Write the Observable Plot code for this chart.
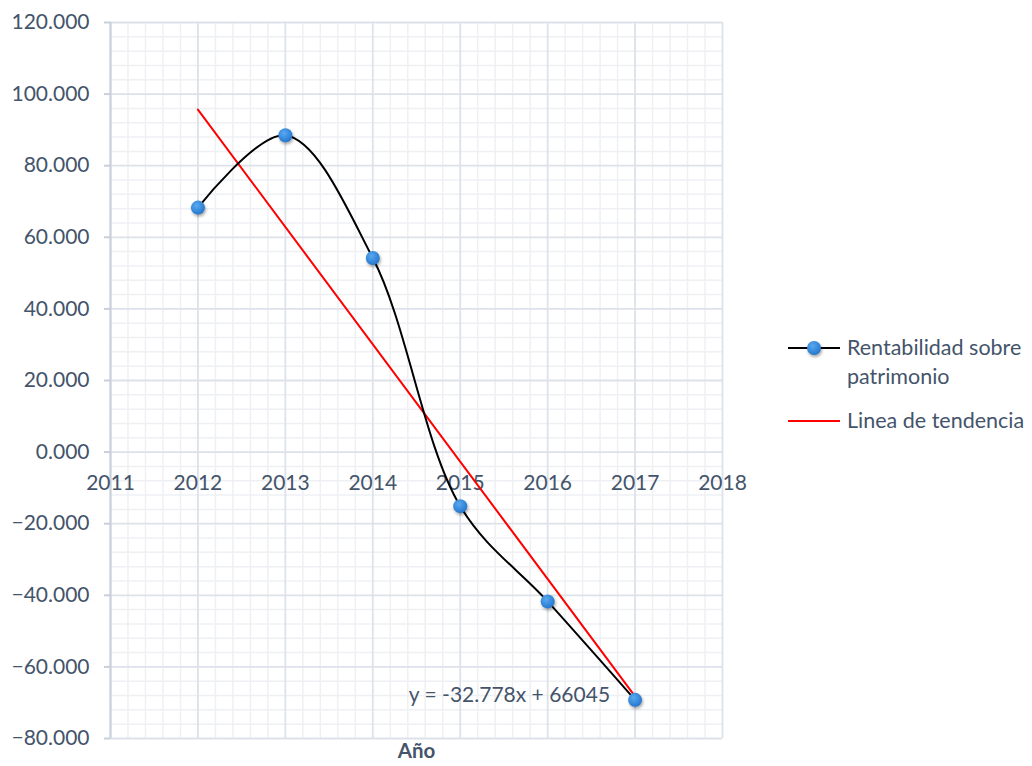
<!DOCTYPE html>
<html>
<head>
<meta charset="utf-8">
<script src="https://cdn.jsdelivr.net/npm/d3@7"></script>
<script src="https://cdn.jsdelivr.net/npm/@observablehq/plot@0.6"></script>
<style>
  html, body { margin: 0; padding: 0; background: #fff; }
  #wrap { position: relative; width: 1032px; height: 766px; font-family: Lato, "Open Sans", sans-serif; color: #44546a; }
  #wrap svg g[aria-label="dot"] circle { filter: drop-shadow(1px 2px 1.5px rgba(0,0,0,0.35)); }
  .legend { position: absolute; left: 788px; font-size: 21.5px; line-height: 29px; }
  .legend .item { position: absolute; left: 0; white-space: nowrap; }
  .legend svg { position: absolute; left: 0; top: 0; overflow: visible; }
  .legend .label { position: absolute; left: 59px; top: 0; }
</style>
</head>
<body>
<svg width="0" height="0" style="position:absolute">
  <defs>
    <radialGradient id="dotFill" cx="40%" cy="35%" r="70%">
      <stop offset="0%" stop-color="#5aa8f0"/>
      <stop offset="100%" stop-color="#1f74cc"/>
    </radialGradient>
  </defs>
</svg>
<div id="wrap"></div>
<script>
// Rentabilidad sobre patrimonio por año
const years = [2012, 2013, 2014, 2015, 2016, 2017];
const roe = [68.3, 88.5, 54.2, -15.1, -41.7, -69.2];

// Trend line coefficients (y = slope·x + intercept)
const slope = -32.778;
const intercept = 66045;
const equationLabel = "y = -32.778x + 66045";

// Axis ticks
const xTicks = [2011, 2012, 2013, 2014, 2015, 2016, 2017, 2018];
const yTicks = [-80, -60, -40, -20, 0, 20, 40, 60, 80, 100, 120];
const xTitle = "Año";
const seriesName = ["Rentabilidad sobre", "patrimonio"];
const trendName = "Linea de tendencia";

const data = years.map((year, i) => ({year, value: roe[i]}));
const trendYears = [years[0], years[years.length - 1]];

const minorX = d3.range(2011, 2018.0001, 0.2).filter(v => Math.abs(v - Math.round(v)) > 1e-6);
const minorY = d3.range(-80, 120.0001, 4).filter(v => v % 20 !== 0);

const textColor = "#44546a";
const tickFont = 21;

const chart = Plot.plot({
  width: 1032,
  height: 766,
  marginLeft: 110,
  marginRight: 310,
  marginTop: 22,
  marginBottom: 28,
  style: {fontFamily: "Lato, 'Open Sans', sans-serif", color: textColor, background: "transparent"},
  x: {domain: [2011, 2018], axis: null},
  y: {domain: [-80, 120], axis: null},
  marks: [
    // minor grid
    Plot.ruleX(minorX, {stroke: "#eef0f4", strokeWidth: 1.5}),
    Plot.ruleY(minorY, {stroke: "#eef0f4", strokeWidth: 1.5}),
    // major grid
    Plot.ruleX(xTicks, {stroke: "#dde2ea", strokeWidth: 1.8}),
    Plot.ruleY(yTicks, {stroke: "#dde2ea", strokeWidth: 1.8}),
    // vertical axis line and ticks
    Plot.ruleX([2011], {stroke: "#c9d0db", strokeWidth: 2}),
    Plot.axisY(yTicks, {
      tickSize: 6,
      tickPadding: 15,
      tickFormat: d3.format(".3f"),
      fontSize: tickFont,
      stroke: "#c9d0db",
      strokeWidth: 2,
      fill: textColor,
      label: null
    }),
    // year labels under the zero line
    Plot.text(xTicks, {
      x: d => d,
      y: 0,
      dy: 31,
      text: d => String(d),
      fontSize: tickFont,
      fill: textColor
    }),
    // axis title
    Plot.text([xTitle], {
      frameAnchor: "bottom",
      dy: 19,
      text: d => d,
      fontSize: 20.5,
      fontWeight: "bold",
      fill: textColor
    }),
    // linear trend
    Plot.line(trendYears, {
      x: d => d,
      y: d => slope * d + intercept,
      stroke: "#ff0000",
      strokeWidth: 2
    }),
    // series line
    Plot.line(data, {
      x: "year",
      y: "value",
      curve: "catmull-rom",
      stroke: "#000",
      strokeWidth: 2
    }),
    Plot.dot(data, {
      x: "year",
      y: "value",
      r: 7,
      fill: "url(#dotFill)",
      stroke: "none"
    }),
    // trend equation
    Plot.text([equationLabel], {
      x: trendYears[1],
      y: trendYears[1] * slope + intercept,
      dx: -25,
      dy: -1,
      textAnchor: "end",
      text: d => d,
      fontSize: tickFont,
      fill: textColor
    })
  ]
});

const wrap = document.getElementById("wrap");
wrap.appendChild(chart);

// legend to the right of the plot
const legend = document.createElement("div");
legend.className = "legend";
legend.style.top = "333px";
legend.innerHTML = `
  <div class="item" style="top:0">
    <svg width="54" height="29"><line x1="0" y1="15" x2="52" y2="15" stroke="#000" stroke-width="2"/>
      <circle cx="26" cy="15" r="7" fill="url(#dotFill)" style="filter: drop-shadow(1px 2px 1.5px rgba(0,0,0,0.35))"/></svg>
    <div class="label">${seriesName[0]}<br>${seriesName[1]}</div>
  </div>
  <div class="item" style="top:73px">
    <svg width="54" height="29"><line x1="0" y1="15" x2="52" y2="15" stroke="#ff0000" stroke-width="2"/></svg>
    <div class="label">${trendName}</div>
  </div>`;
wrap.appendChild(legend);
</script>
</body>
</html>
